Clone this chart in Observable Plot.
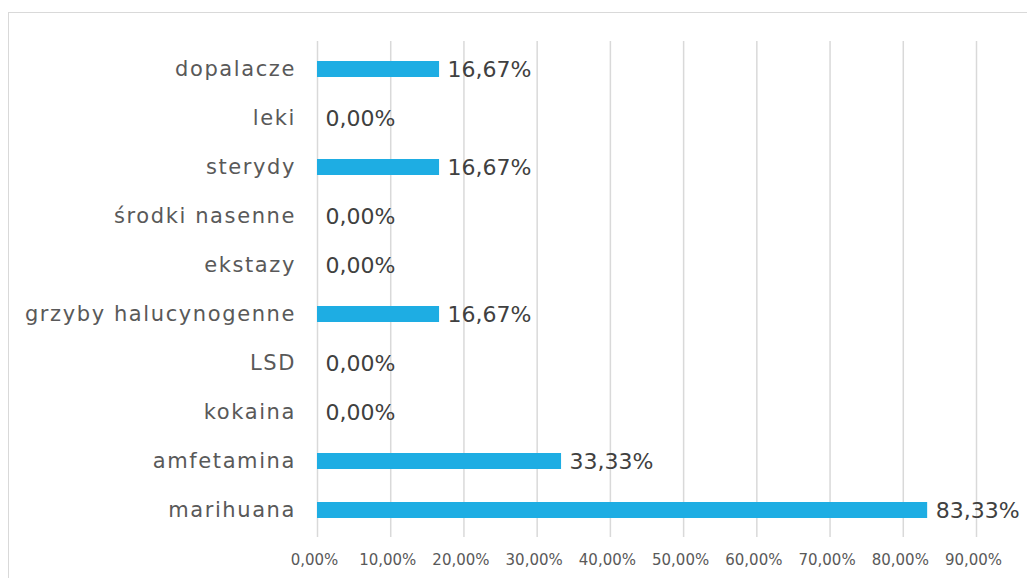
<!DOCTYPE html>
<html>
<head>
<meta charset="utf-8">
<script src="https://cdn.jsdelivr.net/npm/d3@7"></script>
<script src="https://cdn.jsdelivr.net/npm/@observablehq/plot@0.6"></script>
<style>
  html, body { margin: 0; padding: 0; background: #fff; overflow: hidden; }
  #frame { position: absolute; left: 8px; top: 12px; width: 1100px; height: 700px; border: 1px solid #d9d9d9; }
  #chart { position: absolute; left: 0; top: 0; }
  .ycat text { letter-spacing: 1.6px; }
</style>
</head>
<body>
<div id="frame"></div>
<div id="chart"></div>
<script>
const categories = ["dopalacze", "leki", "sterydy", "środki nasenne", "ekstazy", "grzyby halucynogenne", "LSD", "kokaina", "amfetamina", "marihuana"];
const values = [16.67, 0, 16.67, 0, 0, 16.67, 0, 0, 33.33, 83.33];
const xTicks = [0, 10, 20, 30, 40, 50, 60, 70, 80, 90];

const data = categories.map((c, i) => ({category: c, value: values[i]}));
const fmt = v => v.toFixed(2).replace(".", ",") + "%";
const font = "DejaVu Sans, sans-serif";

const chart = Plot.plot({
  width: 1027,
  height: 578,
  marginLeft: 317,
  marginRight: 51,
  marginTop: 41,
  marginBottom: 41,
  style: {fontFamily: font, background: "transparent", overflow: "visible"},
  x: {domain: [0, 90], ticks: xTicks, tickFormat: fmt, label: null},
  y: {domain: categories, paddingInner: 0.68, paddingOuter: 0.34, label: null},
  marks: [
    Plot.gridX(xTicks, {stroke: "#d9d9d9", strokeOpacity: 1, strokeWidth: 1.5}),
    Plot.barX(data, {y: "category", x: "value", fill: "#1eade3"}),
    Plot.text(data, {y: "category", x: "value", text: d => fmt(d.value), textAnchor: "start", dx: 8, fontSize: 22, fill: "#404040"}),
    Plot.axisY({tickSize: 0, tickPadding: 21.5, fontSize: 21, color: "#595959", label: null, className: "ycat"}),
    Plot.axisX(xTicks, {tickSize: 0, tickPadding: 17, fontSize: 15, color: "#595959", label: null, tickFormat: fmt, dx: -3})
  ]
});
document.getElementById("chart").appendChild(chart);
</script>
</body>
</html>
